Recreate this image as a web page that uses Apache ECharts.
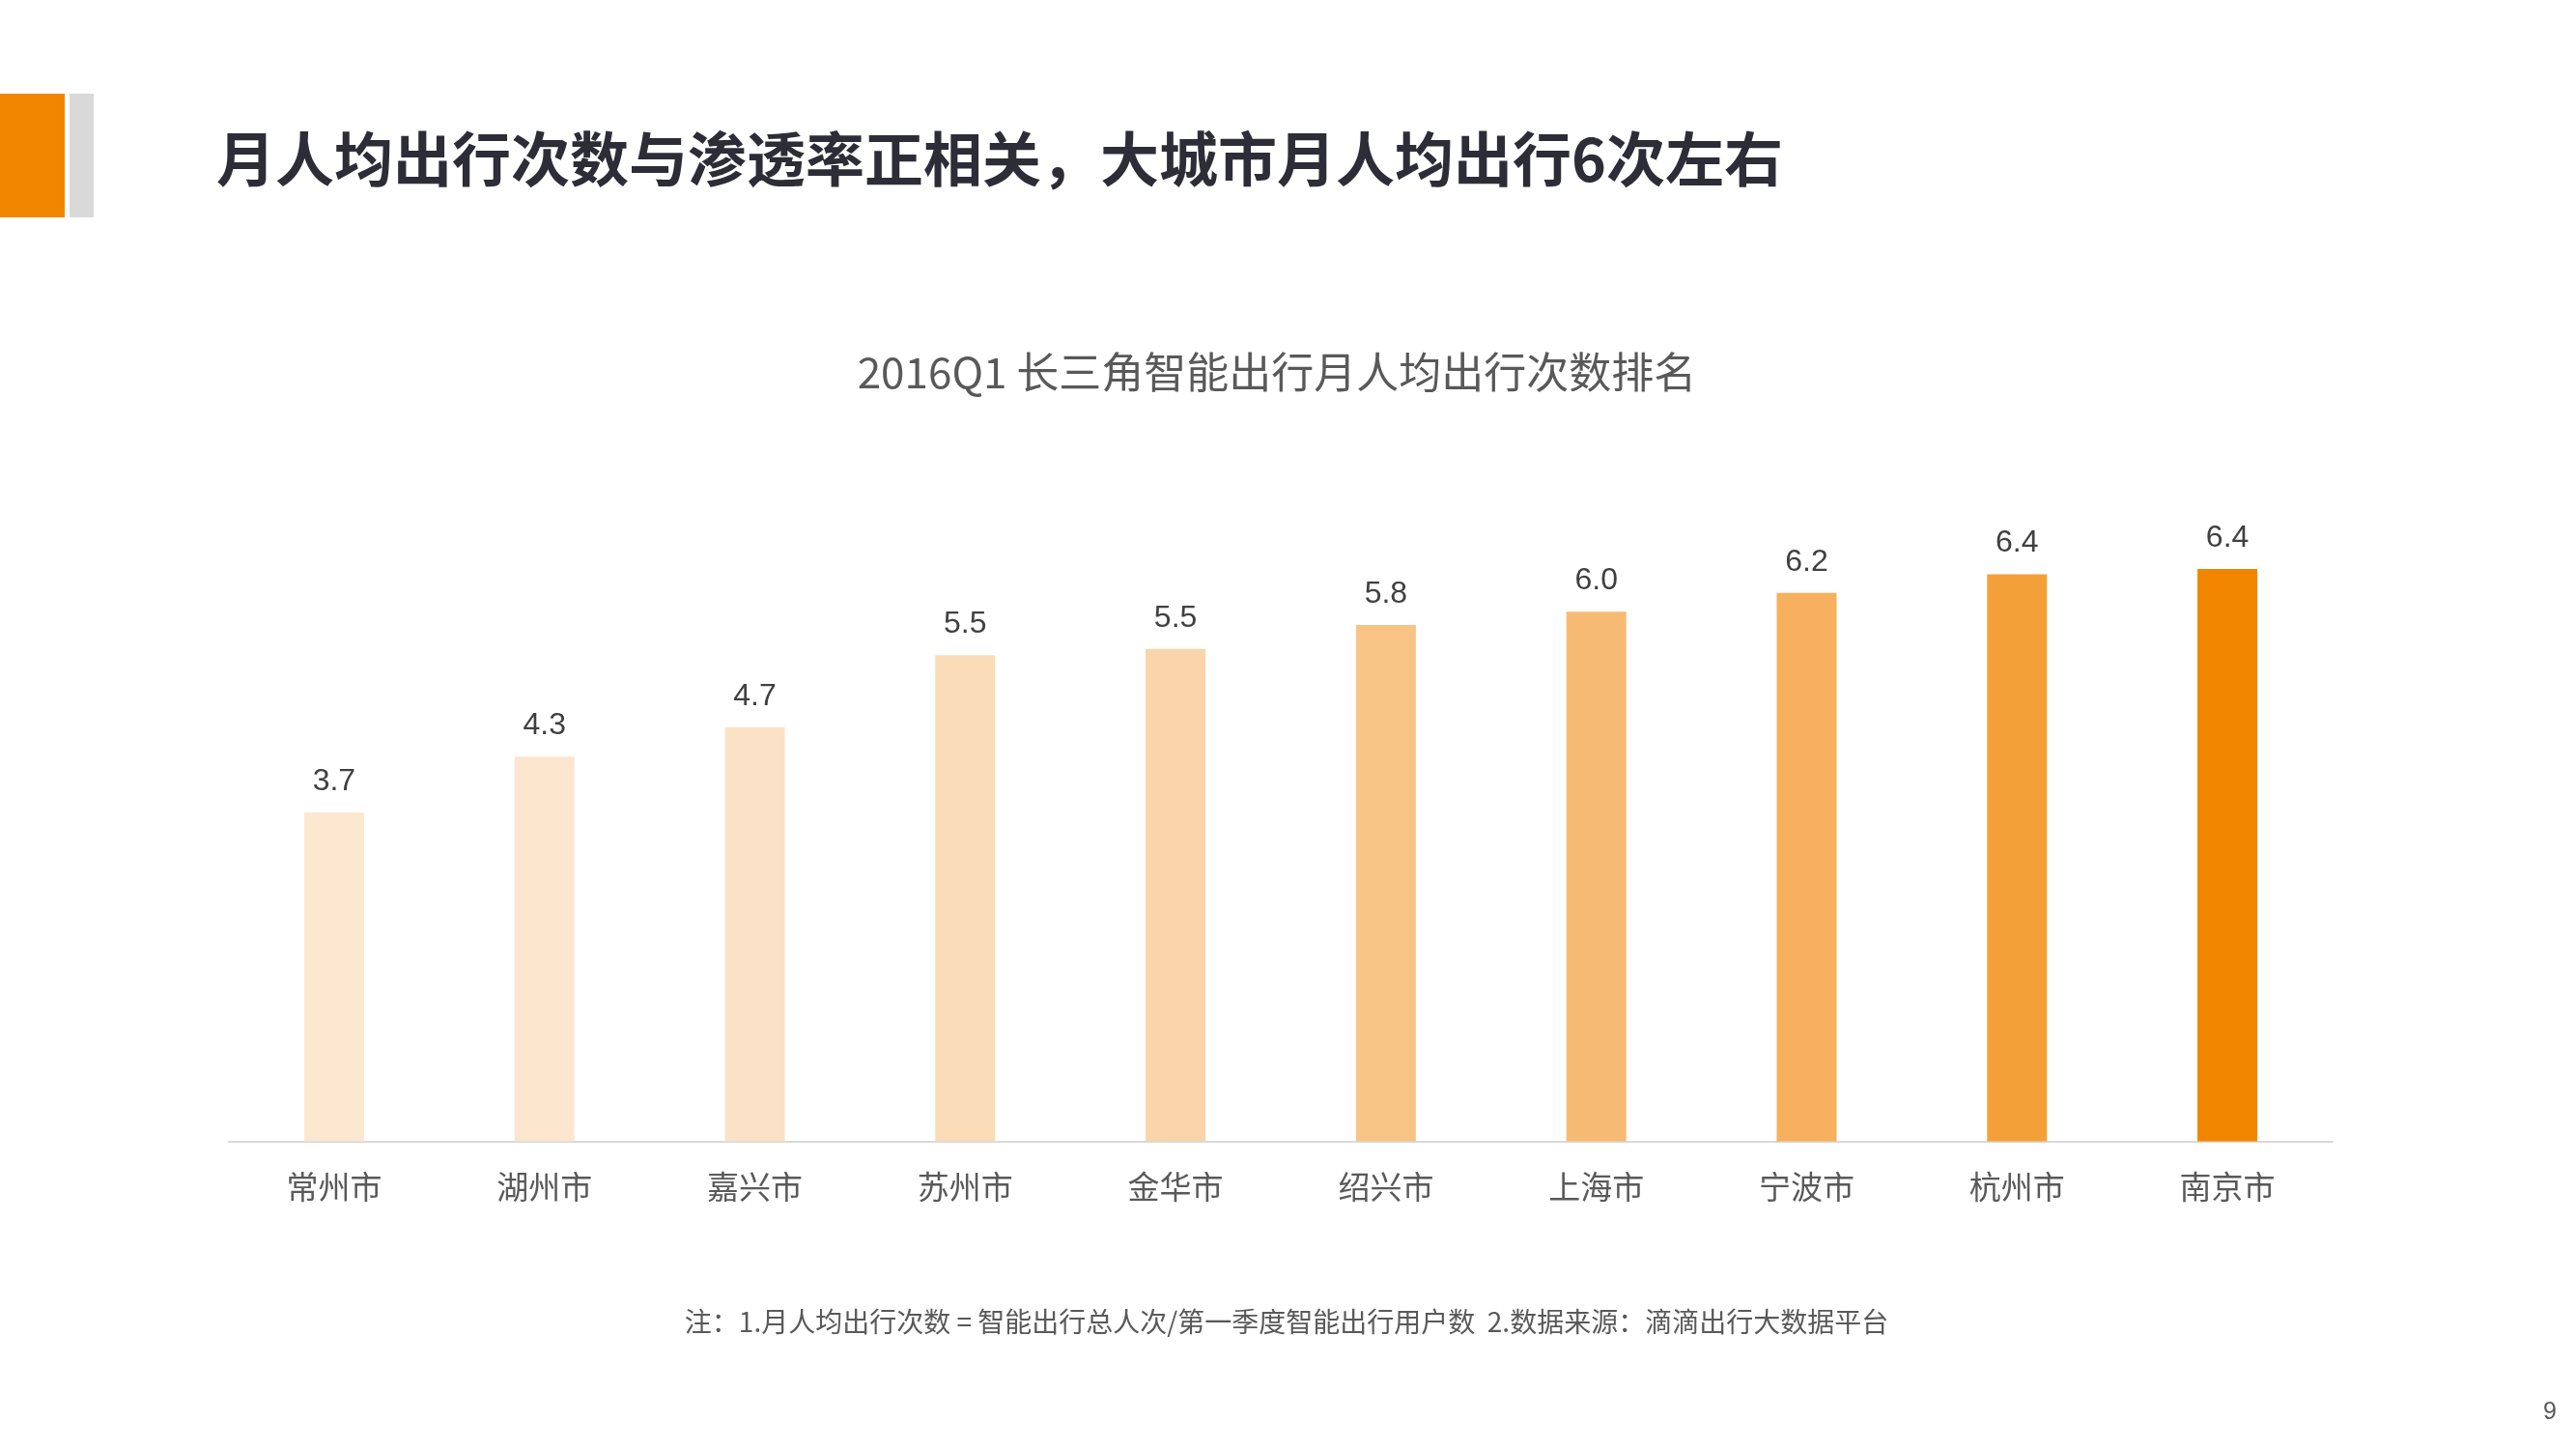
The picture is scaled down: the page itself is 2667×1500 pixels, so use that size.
<!DOCTYPE html>
<html>
<head>
<meta charset="utf-8">
<script src="https://cdn.jsdelivr.net/npm/echarts@6/dist/echarts.min.js"></script>
<style>
html,body{margin:0;padding:0;background:#fff;}
#chart{width:2667px;height:1500px;}
</style>
</head>
<body>
<div id="chart"></div>
<script>
const categories = ['常州市','湖州市','嘉兴市','苏州市','金华市','绍兴市','上海市','宁波市','杭州市','南京市'];
const values = [3.70, 4.33, 4.66, 5.47, 5.54, 5.81, 5.96, 6.17, 6.38, 6.44];
const barColors = ['#FCE7D1','#FCE6CE','#FBE2C6','#FADCB8','#F9D5A9','#F8C486','#F7BA74','#F6B05E','#F4A038','#F28500'];
const pageTitle = '月人均出行次数与渗透率正相关，大城市月人均出行6次左右';
const chartTitle = '2016Q1 长三角智能出行月人均出行次数排名';
const footnote = '注：1.月人均出行次数 = 智能出行总人次/第一季度智能出行用户数  2.数据来源：滴滴出行大数据平台';
const pageNumber = '9';

const cjk = "'Noto Sans CJK SC', sans-serif";
const latin = "'Liberation Sans', 'Noto Sans CJK SC', sans-serif";

const chart = echarts.init(document.getElementById('chart'), null, {renderer: 'canvas'});
chart.setOption({
  backgroundColor: '#ffffff',
  animation: false,
  graphic: [
    {type: 'rect', shape: {x: 0, y: 97, width: 67, height: 128}, style: {fill: '#F28500'}},
    {type: 'rect', shape: {x: 72, y: 97, width: 25, height: 128}, style: {fill: '#D9D9D9'}},
    {type: 'text', x: 224, y: 165, style: {text: pageTitle, font: "bold 61px " + cjk, fill: '#2D2D37', textAlign: 'left', textVerticalAlign: 'middle'}},
    {type: 'text', x: 1322, y: 385, style: {text: chartTitle, font: "44px " + cjk, fill: '#595959', textAlign: 'center', textVerticalAlign: 'middle'}},
    {type: 'text', x: 1332, y: 1368, style: {text: footnote, font: "28px " + cjk, fill: '#595959', textAlign: 'center', textVerticalAlign: 'middle'}},
    {type: 'text', x: 2640, y: 1462, style: {text: pageNumber, font: "25px " + latin, fill: '#595959', textAlign: 'center', textVerticalAlign: 'middle'}}
  ],
  grid: {left: 237, right: 252, top: 537.5, bottom: 318.5, containLabel: false},
  xAxis: {
    type: 'category',
    data: categories,
    axisLine: {show: true, lineStyle: {color: '#D9D9D9', width: 2}},
    axisTick: {show: false},
    axisLabel: {color: '#595959', fontSize: 33, fontFamily: cjk, margin: 30}
  },
  yAxis: {
    type: 'value',
    min: 0,
    max: 7,
    interval: 1,
    show: false,
    splitLine: {show: false}
  },
  series: [{
    type: 'bar',
    data: values.map((v, i) => ({value: v, itemStyle: {color: barColors[i]}})),
    barWidth: 62,
    label: {
      show: true,
      position: 'top',
      distance: 16,
      color: '#404040',
      fontSize: 32,
      fontFamily: latin,
      formatter: p => p.value.toFixed(1)
    }
  }]
});
</script>
</body>
</html>
